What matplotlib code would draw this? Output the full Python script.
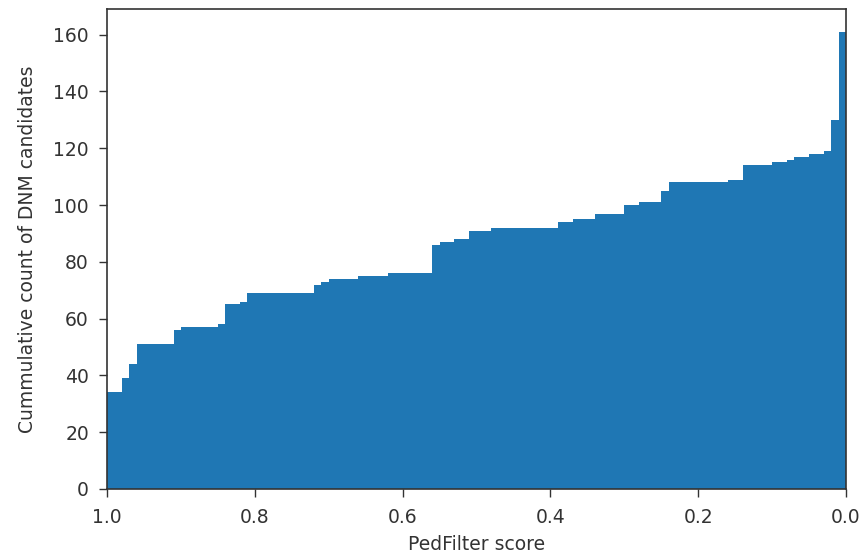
import numpy as np
import matplotlib
matplotlib.use("Agg")
import matplotlib.pyplot as plt

# Bin edges of the PedFilter score histogram (100 bins of width 0.01)
bin_edges = np.linspace(0.0, 1.0, 101)

# Cumulative count (scores >= bin), listed from score 1.0 downwards
cum_from_top = (
    [34, 34, 39, 44] + [51] * 5 + [56] + [57] * 5 + [58] + [65, 65, 66]
    + [69] * 9 + [72, 73] + [74] * 4 + [75] * 4 + [76] * 6
    + [86, 87, 87, 88, 88] + [91] * 3 + [92] * 9 + [94] * 2 + [95] * 3
    + [97] * 4 + [100] * 2 + [101] * 3 + [105] + [108] * 8 + [109] * 2
    + [114] * 4 + [115] * 2 + [116] + [117] * 2 + [118] * 2 + [119]
    + [130, 161]
)
cum_counts = np.array(cum_from_top[::-1])  # ordered by increasing score

fig = plt.figure(figsize=(8.66, 5.57), dpi=100)
ax = fig.add_axes([107 / 866, 1 - 489 / 557, (846 - 107) / 866, (489 - 9) / 557])

ax.stairs(cum_counts, bin_edges, fill=True, color="#1f77b4", linewidth=0)

ax.set_xlim(1.0, 0.0)
ax.set_ylim(0, cum_counts.max() * 1.05)
ax.set_xticks([1.0, 0.8, 0.6, 0.4, 0.2, 0.0])
ax.set_yticks(range(0, 161, 20))
ax.tick_params(labelsize=13.5, length=5.5, width=1.0, colors="#333333")
ax.tick_params(axis="y", pad=7.5)
ax.tick_params(axis="x", pad=8)
for s in ax.spines.values():
    s.set_linewidth(1.2)
    s.set_color("#333333")
ax.set_xlabel("PedFilter score", fontsize=13.5, color="#333333", labelpad=6)
ax.set_ylabel("Cummulative count of DNM candidates", fontsize=13.5, color="#333333", labelpad=12)

fig.savefig("out.png", dpi=100)
